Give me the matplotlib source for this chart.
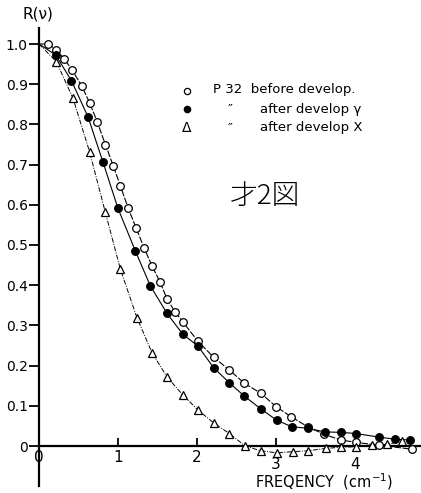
import numpy as np
import matplotlib
matplotlib.use("Agg")
import matplotlib.pyplot as plt

plt.rcParams['font.family'] = ['DejaVu Sans', 'Noto Sans CJK JP']

# --- data ---
x_before = [0.12, 0.22, 0.32, 0.42, 0.54, 0.64, 0.74, 0.84, 0.94, 1.03, 1.13, 1.23, 1.33,
            1.43, 1.53, 1.62, 1.72, 1.82, 2.01, 2.21, 2.41, 2.60, 2.81, 3.00, 3.19, 3.40,
            3.61, 3.82, 4.01, 4.31, 4.72]
y_before = [1.0, 0.985, 0.963, 0.935, 0.896, 0.854, 0.805, 0.750, 0.697, 0.647, 0.591, 0.542, 0.493,
            0.448, 0.409, 0.366, 0.334, 0.309, 0.261, 0.221, 0.189, 0.156, 0.131, 0.098, 0.073, 0.048,
            0.029, 0.015, 0.009, 0.002, -0.008]

x_after_y = [0.21, 0.41, 0.62, 0.81, 1.00, 1.22, 1.41, 1.62, 1.82, 2.01, 2.21, 2.41, 2.60,
             2.81, 3.01, 3.20, 3.40, 3.62, 3.82, 4.01, 4.31, 4.50, 4.69]
y_after_y = [0.973, 0.909, 0.819, 0.706, 0.591, 0.485, 0.398, 0.330, 0.278, 0.249, 0.195, 0.157, 0.124,
             0.092, 0.064, 0.048, 0.044, 0.035, 0.034, 0.031, 0.022, 0.017, 0.015]

x_after_x = [0.22, 0.43, 0.64, 0.84, 1.03, 1.24, 1.43, 1.62, 1.82, 2.01, 2.22, 2.41, 2.61,
             2.81, 3.01, 3.22, 3.40, 3.63, 3.82, 4.01, 4.21, 4.41, 4.59]
y_after_x = [0.956, 0.865, 0.732, 0.581, 0.440, 0.319, 0.232, 0.172, 0.127, 0.090, 0.056, 0.031, 0.0,
             -0.012, -0.017, -0.014, -0.012, -0.006, -0.003, -0.002, 0.003, 0.004, 0.012]

curve_start = (0.0, 1.0)

y_ticks = [0.0, 0.1, 0.2, 0.3, 0.4, 0.5, 0.6, 0.7, 0.8, 0.9, 1.0]
y_tick_labels = ["0", "0.1", "0.2", "0.3", "0.4", "0.5", "0.6", "0.7", "0.8", "0.9", "1.0"]
x_ticks = [1, 2, 3, 4]
x_tick_labels = ["0", "1", "2", "3", "4"]

legend_texts = ["P 32  before develop.", "after develop γ", "after develop X"]

# --- figure ---
W, H = 421, 493
fig = plt.figure(figsize=(W / 100, H / 100), dpi=100)
ax = fig.add_axes([0, 0, 1, 1])
px_x0, px_unit_x = 39.0, 79.0
px_y0, px_unit_y = 446.0, 402.0
ax.set_xlim(-px_x0 / px_unit_x, (W - px_x0) / px_unit_x)
ax.set_ylim(-(H - px_y0) / px_unit_y, px_y0 / px_unit_y)
ax.patch.set_alpha(0)

for s in ["top", "right"]:
    ax.spines[s].set_visible(False)
ax.spines["left"].set_position(("data", 0))
ax.spines["bottom"].set_position(("data", 0))
ax.spines["left"].set_bounds(-0.10, 1.04)
ax.spines["bottom"].set_bounds(0, 4.84)
for s in ["left", "bottom"]:
    ax.spines[s].set_linewidth(1.6)
    ax.spines[s].set_color("black")

ax.set_yticks(y_ticks)
ax.set_yticklabels(y_tick_labels, fontsize=10)
ax.tick_params(axis="y", direction="out", length=7, width=1.3, pad=1)
ax.set_xticks(x_ticks)
ax.set_xticklabels([])
ax.tick_params(axis="x", direction="in", length=6, width=1.3)

# x tick labels (3 and 4 sit lower in the original)
offs = [0.028, 0.028, 0.028, 0.047, 0.047]
for xv, lab, o in zip([0] + x_ticks, x_tick_labels, offs):
    ax.text(xv, -o, lab, ha="center", va="center", fontsize=11)

lw = 0.8
ax.plot([curve_start[0]] + x_before, [curve_start[1]] + y_before, color="black", lw=lw, ls=(0, (6, 1.5)), zorder=2)
ax.plot([curve_start[0]] + x_after_y, [curve_start[1]] + y_after_y, color="black", lw=lw, zorder=2)
ax.plot([curve_start[0]] + x_after_x, [curve_start[1]] + y_after_x, color="black", lw=0.7, ls=(0, (5, 1.5, 1, 1.5)), zorder=2)

ax.plot(x_before, y_before, ls="none", marker="o", ms=5.5, mfc="white", mec="black", mew=0.9, zorder=3)
ax.plot(x_after_y, y_after_y, ls="none", marker="o", ms=5.5, mfc="black", mec="black", mew=0.9, zorder=3)
ax.plot(x_after_x, y_after_x, ls="none", marker="^", ms=5.5, mfc="white", mec="black", mew=0.9, zorder=3)

# legend (text block in the upper right)
def px(xp, yp):
    return ((xp - px_x0) / px_unit_x, (px_y0 - yp) / px_unit_y)

ax.plot(*px(187, 91), marker="o", ms=4.5, mfc="white", mec="black", mew=0.9, ls="none")
ax.plot(*px(187, 109), marker="o", ms=4.5, mfc="black", mec="black", ls="none")
ax.text(*px(187, 128), "Δ", ha="center", va="center", fontsize=10)
ax.text(*px(213, 90), legend_texts[0], ha="left", va="center", fontsize=9.5)
ax.text(*px(230, 109), "″", ha="center", va="center", fontsize=9.5)
ax.text(*px(230, 128), "″", ha="center", va="center", fontsize=9.5)
ax.text(*px(260, 109), legend_texts[1], ha="left", va="center", fontsize=9.5)
ax.text(*px(260, 128), legend_texts[2], ha="left", va="center", fontsize=9.5)

ax.text(*px(265, 196), "才2図", ha="center", va="center", fontsize=20,
        family=["Noto Sans CJK JP", "DejaVu Sans"], fontweight="light")

ax.text(*px(22, 14), "R(ν)", ha="left", va="center", fontsize=11)
ax.text(*px(255, 482), "FREQENCY  (cm$^{-1}$)", ha="left", va="center", fontsize=10.5)

fig.savefig("out.png", dpi=100)
